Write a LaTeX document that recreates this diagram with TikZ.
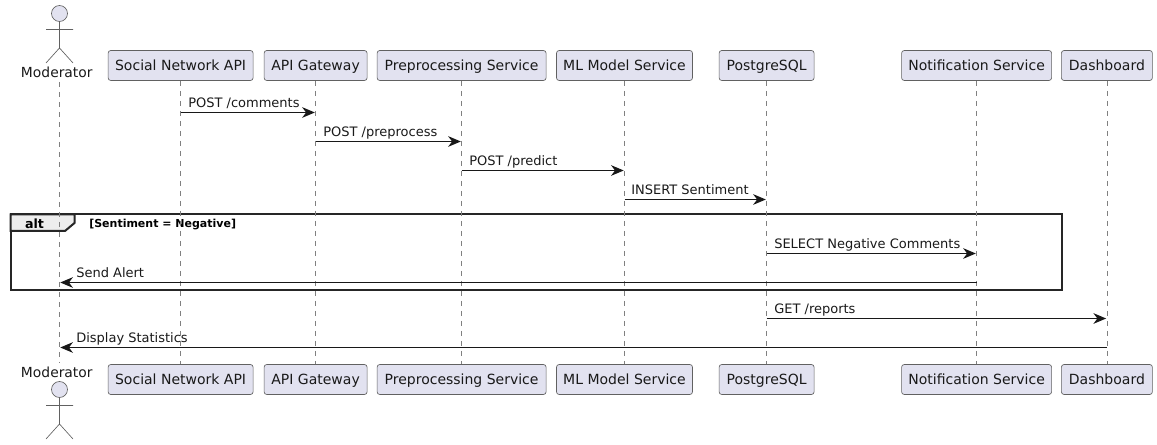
\documentclass[tikz,border=0pt]{standalone}
\usepackage{fontspec}
\setmainfont{DejaVu Sans}
\usetikzlibrary{arrows.meta,calc}
\definecolor{pbox}{HTML}{E2E2F0}
\definecolor{pline}{HTML}{181818}
\tikzset{
  partbox/.style={draw=black!62,line width=0.5pt,fill=pbox,rounded corners=2pt,minimum height=22.5pt,inner xsep=0pt,inner ysep=0pt,text height=8.8pt,text depth=2pt,font=\fontsize{10.5pt}{12pt}\selectfont,text=black!90},
  actorlabel/.style={inner sep=0pt,anchor=base,font=\fontsize{10.4pt}{12pt}\selectfont,text=black!90},
  lifeline/.style={draw=black!50,line width=0.5pt,dash pattern=on 3.75pt off 3.75pt},
  msg/.style={draw=pline,line width=0.75pt,-{Stealth[length=9.5pt,width=8pt,inset=3pt]},shorten >=0.6pt},
  msglabel/.style={inner sep=0pt,anchor=base west,font=\fontsize{9.75pt}{12pt}\selectfont,text=black!90},
  stick/.style={draw=black!62,line width=0.5pt},
  head/.style={draw=black!62,line width=0.5pt,fill=pbox},
  framebox/.style={draw=black!85,line width=1.5pt},
  frametab/.style={draw=black!85,line width=1.5pt,fill=black!7},
}
\begin{document}
\begin{tikzpicture}[x=0.75pt,y=-0.75pt]
\useasboundingbox (0,0) rectangle (1157,445);
% alt frame
\draw[framebox] (10.5,214.5) rectangle (1061.5,290.5);
\draw[frametab] (10.5,214.5) -- (74.5,214.5) -- (74.5,223) -- (65,231) -- (10.5,231) -- cycle;
\node[inner sep=0pt,anchor=base,font=\bfseries\fontsize{9.5pt}{12pt}\selectfont] (alt) at (34.5,229) {alt};
\node[inner sep=0pt,anchor=base west,font=\bfseries\fontsize{8.25pt}{10pt}\selectfont] (guard) at (89,227.7) {[Sentiment = Negative]};
% message labels
\node[msglabel] (m1) at (188,107.5) {POST /comments};
\node[msglabel] (m2) at (323,136.5) {POST /preprocess};
\node[msglabel] (m3) at (469,165.5) {POST /predict};
\node[msglabel] (m4) at (631,194.5) {INSERT Sentiment};
\node[msglabel] (m5) at (774,248.5) {SELECT Negative Comments};
\node[msglabel] (m6) at (76,277.5) {Send Alert};
\node[msglabel] (m7) at (774,313.5) {GET /reports};
\node[msglabel] (m8) at (76,342.5) {Display Statistics};
% row coordinates
\coordinate (r1) at (0,112.5);
\coordinate (r2) at (0,141.5);
\coordinate (r3) at (0,170.5);
\coordinate (r4) at (0,199.5);
\coordinate (r5) at (0,253.5);
\coordinate (r6) at (0,282.5);
\coordinate (r7) at (0,318.5);
\coordinate (r8) at (0,347.5);
\coordinate (lmodt) at (59.5,82);
\coordinate (lmodb) at (59.5,363);
% top boxes
\node[actorlabel] (modt) at (56.8,77.4) {Moderator};
\node[partbox,minimum width=108.75pt] (sna) at (180.6,65.5) {Social Network API};
\node[partbox,minimum width=77.25pt] (gw) at (315.6,65.5) {API Gateway};
\node[partbox,minimum width=126.75pt] (pre) at (461.6,65.5) {Preprocessing Service};
\node[partbox,minimum width=102pt] (ml) at (624.5,65.5) {ML Model Service};
\node[partbox,minimum width=71.25pt] (pg) at (766.6,65.5) {PostgreSQL};
\node[partbox,minimum width=112.5pt] (ns) at (976.6,65.5) {Notification Service};
\node[partbox,minimum width=68.25pt] (db) at (1106.9,65.5) {Dashboard};
% bottom boxes
\node[actorlabel] (modb) at (56.8,377.3) {Moderator};
\node[partbox,minimum width=108.75pt] (snab) at (180.6,379.5) {Social Network API};
\node[partbox,minimum width=77.25pt] (gwb) at (315.6,379.5) {API Gateway};
\node[partbox,minimum width=126.75pt] (preb) at (461.6,379.5) {Preprocessing Service};
\node[partbox,minimum width=102pt] (mlb) at (624.5,379.5) {ML Model Service};
\node[partbox,minimum width=71.25pt] (pgb) at (766.6,379.5) {PostgreSQL};
\node[partbox,minimum width=112.5pt] (nsb) at (976.6,379.5) {Notification Service};
\node[partbox,minimum width=68.25pt] (dbb) at (1106.9,379.5) {Dashboard};
% lifelines
\draw[lifeline] (lmodt) -- (lmodb);
\draw[lifeline] (sna) -- (snab);
\draw[lifeline] (gw) -- (gwb);
\draw[lifeline] (pre) -- (preb);
\draw[lifeline] (ml) -- (mlb);
\draw[lifeline] (pg) -- (pgb);
\draw[lifeline] (ns) -- (nsb);
\draw[lifeline] (db) -- (dbb);
% actors
\draw[head] (59.5,13.5) circle (6pt);
\draw[stick] (59.5,21.5) -- (59.5,48) (46,29.5) -- (73,29.5) (46,63) -- (59.5,48) -- (73,63);
\draw[head] (59.5,389.5) circle (6pt);
\draw[stick] (59.5,397.5) -- (59.5,424) (46,405.5) -- (73,405.5) (46,439) -- (59.5,424) -- (73,439);
% messages
\draw[msg] (sna.south |- r1) -- (gw.south |- r1);
\draw[msg] (gw.south |- r2) -- (pre.south |- r2);
\draw[msg] (pre.south |- r3) -- (ml.south |- r3);
\draw[msg] (ml.south |- r4) -- (pg.south |- r4);
\draw[msg] (pg.south |- r5) -- (ns.south |- r5);
\draw[msg] (ns.south |- r6) -- (lmodt |- r6);
\draw[msg] (pg.south |- r7) -- (db.south |- r7);
\draw[msg] (db.south |- r8) -- (lmodt |- r8);
\end{tikzpicture}
\end{document}
